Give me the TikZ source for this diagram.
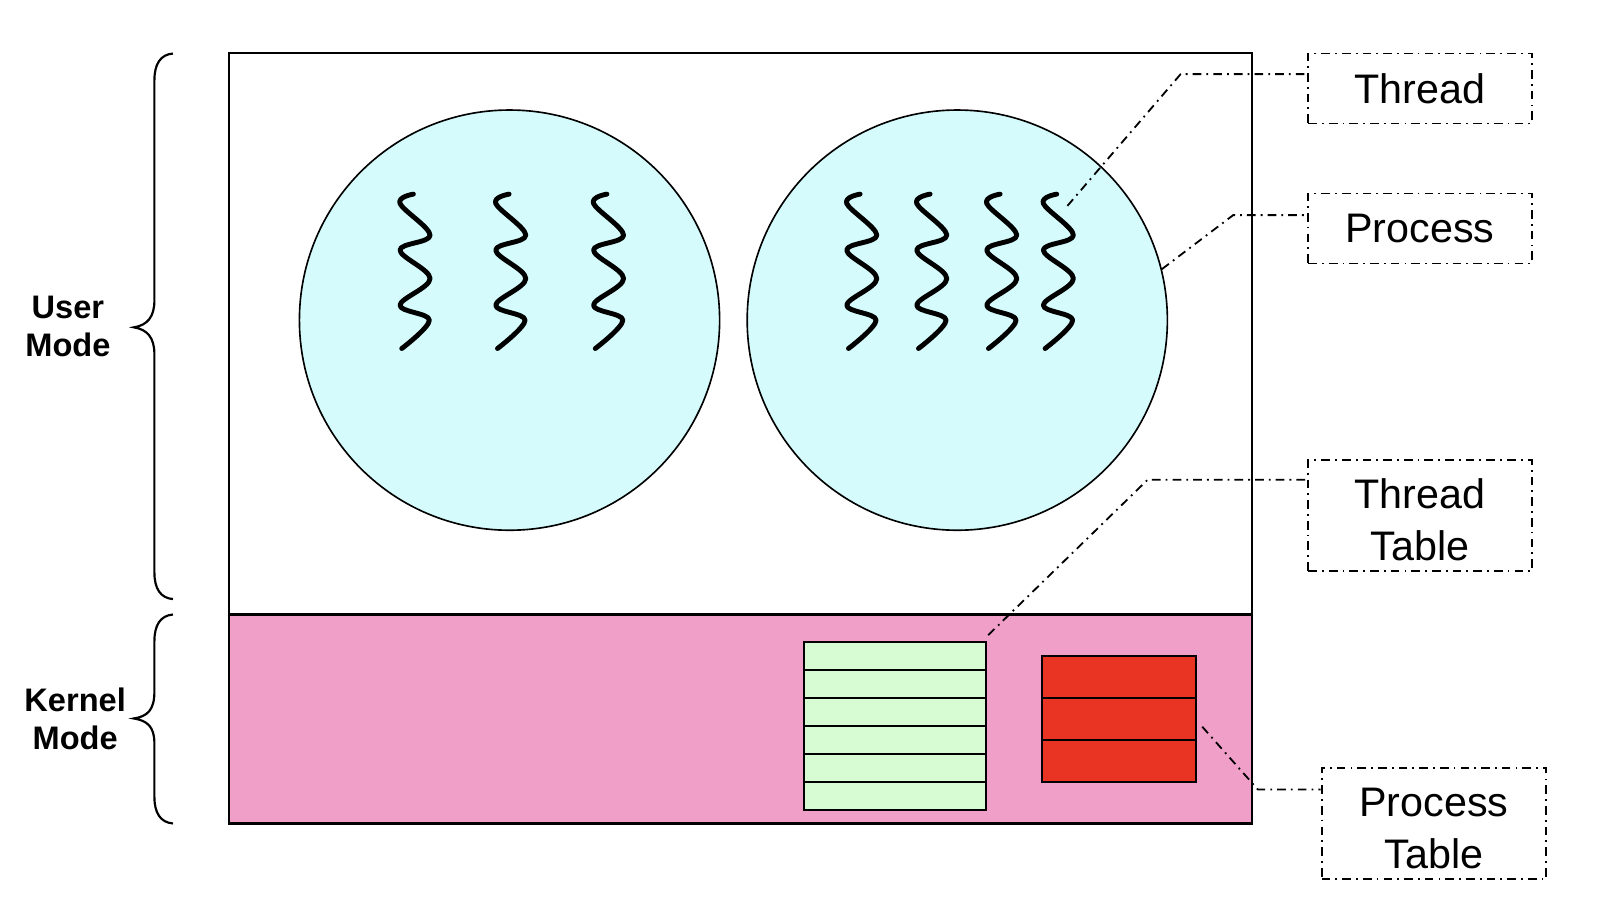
\documentclass[tikz,border=0pt]{standalone}
\usepackage{fontspec}
\setmainfont{Liberation Sans}
\begin{document}
\begin{tikzpicture}[x=0.01cm,y=-0.01cm,
  frame/.style={draw=black,line width=0.6pt,rectangle,inner sep=0pt},
  proc/.style={circle,draw=black,line width=0.45pt,fill=cyanfill,minimum size=4.08cm,inner sep=0pt},
  threadline/.style={line width=1.35pt,line cap=round,line join=round},
  leader/.style={line width=0.5pt,dash pattern=on 2.4pt off 1.4pt on 0.5pt off 1.4pt},
  labelbox/.style={draw=black,line width=0.5pt,dash pattern=on 2.4pt off 1.4pt on 0.5pt off 1.4pt,
    minimum width=2.17cm,inner sep=0pt,align=center,font=\fontsize{11.4}{14.2}\selectfont},
  modelabel/.style={align=center,font=\fontsize{9}{10.5}\selectfont\bfseries},
  bracepath/.style={line width=0.6pt},
  tablerow/.style={line width=0.6pt},
  thread/.pic={\draw[threadline] plot[smooth,tension=0.6] coordinates
     {(13.6,0.6) (0.6,9.7) (29.8,40.5) (0.6,55) (29.8,82.6) (0.6,108.5) (29.1,123) (2.3,150.6)};}
]
\definecolor{cyanfill}{RGB}{213,251,252}
\definecolor{pinkfill}{RGB}{240,159,200}
\definecolor{greenfill}{RGB}{215,251,210}
\definecolor{redfill}{RGB}{233,51,35}
\useasboundingbox (0,0) rectangle (1568,884);

% main regions
\node[frame,fill=white,minimum width=9.93cm,minimum height=5.45cm] (user) at (719.5,324.5) {};
\node[frame,fill=pinkfill,minimum width=9.93cm,minimum height=2.03cm] (kernel) at (719.5,698.5) {};

% processes
\node[proc] (c1) at (495,311) {};
\node[proc] (c2) at (930,311) {};

% threads
\pic at (388,188) {thread};
\pic at (481,188) {thread};
\pic at (576,188) {thread};
\pic at (822,188) {thread};
\pic at (890,188) {thread};
\pic at (958,188) {thread};
\pic at (1013,188) {thread};

% thread table
\node[frame,fill=greenfill,minimum width=1.77cm,minimum height=1.63cm] (ttab) at (869.5,705.5) {};
\foreach \k in {1,...,5}{
  \draw[tablerow] (781,624+27.17*\k) -- (958,624+27.17*\k);
}
% process table
\node[frame,fill=redfill,minimum width=1.50cm,minimum height=1.23cm] (ptab) at (1087,698.5) {};
\draw[tablerow] (1012,678) -- (1162,678);
\draw[tablerow] (1012,719) -- (1162,719);

% label boxes
\node[labelbox,minimum height=0.68cm] (lthread) at (1379.5,86) {Thread};
\node[labelbox,minimum height=0.68cm] (lprocess) at (1379.5,222) {Process};
\node[labelbox,minimum height=1.08cm] (lttable) at (1379.5,501) {};
\node[labelbox,minimum height=1.08cm,minimum width=2.18cm] (lptable) at (1393,800) {};
\node[labelbox,draw=none] (lttabletext) at (1379.5,505) {Thread\\Table};
\node[labelbox,draw=none] (lptabletext) at (1393,805) {Process\\Table};

% leader lines
\coordinate (a1) at (1037,200);
\coordinate (b1) at (1147,72);
\draw[leader] (a1) -- (b1) -- (lthread.west |- b1);
\coordinate (a2) at (c2.14);
\coordinate (b2) at (1198,209);
\draw[leader] (a2) -- (b2) -- (lprocess.west |- b2);
\coordinate (a3) at (960,617);
\coordinate (b3) at (1115,466);
\draw[leader] (a3) -- (b3) -- (lttable.west |- b3);
\coordinate (a4) at (1168,706);
\coordinate (b4) at (1222,767);
\draw[leader] (a4) -- (b4) -- (lptable.west |- b4);

% braces
\draw[bracepath] (168,52) .. controls (156,53) and (150,62) .. (150,78) -- (150,292)
  .. controls (150,308) and (143,316) .. (130,318)
  .. controls (143,320) and (150,328) .. (150,344) -- (150,556)
  .. controls (150,572) and (156,581) .. (168,582);
\draw[bracepath] (168,597) .. controls (156,598) and (150,607) .. (150,623) -- (150,672)
  .. controls (150,690) and (143,696) .. (130,698)
  .. controls (143,700) and (150,706) .. (150,722) -- (150,774)
  .. controls (150,790) and (156,799) .. (168,800);

\node[modelabel] (lum) at (66,317) {User\\Mode};
\node[modelabel] (lkm) at (73,698) {Kernel\\Mode};
\end{tikzpicture}
\end{document}
